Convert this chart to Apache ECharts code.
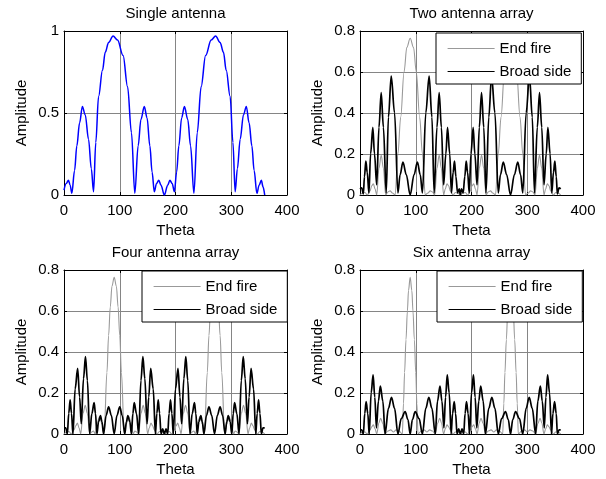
<!DOCTYPE html>
<html>
<head>
<meta charset="utf-8">
<script src="https://cdn.jsdelivr.net/npm/echarts/dist/echarts.min.js"></script>
<style>
html,body{margin:0;padding:0;background:#fff;}
#chart{width:606px;height:479px;}
</style>
</head>
<body>
<div id="chart"></div>
<script>
// ---------------- data (theta in degrees, amplitude) ----------------
const xTicks = [0, 100, 200, 300, 400];
const panelTitles = ['Single antenna', 'Two antenna array', 'Four antenna array', 'Six antenna array'];
const legendNames = ['End fire', 'Broad side'];

const singleAntenna = [[0,0.03],[4,0.07],[8,0.09],[11,0.06],[14,0.01],[19,0.15],[23,0.30],[28,0.44],[33,0.54],[38,0.49],[44,0.34],[49,0.16],[53,0.02],[57,0.32],[62,0.60],[69,0.76],[74,0.87],[80,0.93],[88,0.97],[96,0.945],[106,0.85],[114,0.66],[121,0.38],[127,0.01],[133,0.30],[138,0.46],[144,0.54],[149,0.47],[154,0.30],[158,0.14],[162,0.02],[166,0.07],[170,0.09],[174,0.06],[180,0.00],[186,0.06],[190,0.09],[194,0.07],[198,0.02],[202,0.14],[206,0.30],[211,0.47],[216,0.54],[222,0.46],[227,0.30],[233,0.01],[239,0.38],[246,0.66],[254,0.85],[264,0.945],[272,0.97],[280,0.93],[286,0.87],[291,0.76],[298,0.60],[303,0.32],[307,0.02],[311,0.16],[316,0.34],[322,0.49],[327,0.54],[332,0.44],[337,0.30],[341,0.15],[346,0.01],[350,0.06],[354,0.09],[357,0.05],[360,0.00]];

const twoEndFire = [[0,0],[5,0.01],[9,0.012],[13,0],[18,0.02],[21,0.045],[24,0.055],[27,0.03],[30,0],[34,0.13],[38,0.195],[42,0.13],[46,0],[50,0.015],[54,0.02],[58,0.01],[63,0],[68,0.2],[73,0.38],[79,0.6],[84,0.72],[90,0.765],[96,0.72],[101,0.6],[107,0.38],[112,0.2],[117,0],[122,0.01],[126,0.02],[130,0.015],[134,0],[138,0.13],[142,0.195],[146,0.13],[150,0],[153,0.03],[156,0.055],[159,0.045],[162,0.02],[167,0],[171,0.012],[175,0.01],[180,0],[185,0.01],[189,0.012],[193,0],[198,0.02],[201,0.045],[204,0.055],[207,0.03],[210,0],[214,0.13],[218,0.195],[222,0.13],[226,0],[230,0.015],[234,0.02],[238,0.01],[243,0],[248,0.2],[253,0.38],[259,0.6],[264,0.72],[270,0.765],[276,0.72],[281,0.6],[287,0.38],[292,0.2],[297,0],[302,0.01],[306,0.02],[310,0.015],[314,0],[318,0.13],[322,0.195],[326,0.13],[330,0],[333,0.03],[336,0.055],[339,0.045],[342,0.02],[347,0],[351,0.012],[355,0.01],[360,0]];

const twoBroadSide = [[0,0.03],[3,0.035],[6,0.005],[8,0.09],[10.5,0.165],[13,0.11],[16,0.01],[19,0.2],[23,0.33],[26,0.2],[30,0.05],[34,0.33],[38,0.5],[42,0.33],[47,0.01],[51,0.38],[56,0.58],[62,0.40],[68,0.01],[72,0.1],[77,0.16],[83,0.1],[90,0],[97,0.1],[103,0.16],[108,0.1],[112,0.01],[118,0.40],[124,0.58],[129,0.38],[133,0.01],[138,0.33],[142,0.5],[146,0.33],[150,0.05],[154,0.2],[157,0.33],[161,0.2],[164,0.01],[167,0.11],[169.5,0.165],[172,0.09],[175,0.01],[178,0.03],[180,0],[182,0.03],[185,0.01],[188,0.09],[190.5,0.165],[193,0.11],[196,0.01],[199,0.2],[203,0.33],[206,0.2],[210,0.05],[214,0.33],[218,0.5],[222,0.33],[226,0.01],[231,0.38],[236,0.58],[242,0.40],[248,0.01],[252,0.1],[257,0.16],[263,0.1],[270,0],[277,0.1],[283,0.16],[288,0.1],[292,0.01],[298,0.40],[304,0.58],[309,0.38],[313,0.01],[318,0.33],[322,0.5],[326,0.33],[330,0.05],[334,0.2],[337,0.33],[341,0.2],[344,0.01],[347,0.11],[349.5,0.165],[352,0.09],[354,0.005],[357,0.035],[360,0.03]];

const fourEndFire = [[0,0],[5,0.01],[9,0.012],[13,0],[18,0.02],[21,0.04],[24,0.053],[27,0.03],[30,0],[34,0.1],[38,0.14],[42,0.1],[46,0],[50,0.01],[53,0.015],[56,0],[60,0.06],[64,0.085],[68,0.05],[72,0],[77,0.3],[80,0.48],[83,0.62],[86,0.72],[90,0.765],[94,0.72],[97,0.62],[100,0.48],[103,0.3],[108,0],[112,0.05],[116,0.085],[120,0.06],[124,0],[127,0.015],[130,0.01],[134,0],[138,0.1],[142,0.14],[146,0.1],[150,0],[153,0.03],[156,0.053],[159,0.04],[162,0.02],[167,0],[171,0.012],[175,0.01],[180,0],[185,0.01],[189,0.012],[193,0],[198,0.02],[201,0.04],[204,0.053],[207,0.03],[210,0],[214,0.1],[218,0.14],[222,0.1],[226,0],[230,0.01],[233,0.015],[236,0],[240,0.06],[244,0.085],[248,0.05],[252,0],[257,0.3],[260,0.48],[263,0.62],[266,0.72],[270,0.765],[274,0.72],[277,0.62],[280,0.48],[283,0.3],[288,0],[292,0.05],[296,0.085],[300,0.06],[304,0],[307,0.015],[310,0.01],[314,0],[318,0.1],[322,0.14],[326,0.1],[330,0],[333,0.03],[336,0.053],[339,0.04],[342,0.02],[347,0],[351,0.012],[355,0.01],[360,0]];

const fourBroadSide = [[0,0.03],[3,0.03],[6,0],[8.5,0.1],[11,0.166],[13.5,0.1],[16,0],[20,0.22],[24.5,0.32],[28,0.18],[31,0.05],[35,0.27],[38.5,0.377],[42,0.26],[46,0],[50,0.1],[54,0.153],[56.5,0.1],[59,0],[62,0.06],[65.5,0.09],[68,0.06],[71,0],[75.5,0.09],[80,0.133],[85,0.09],[90,0],[95,0.09],[100,0.133],[104.5,0.09],[109,0],[112,0.06],[114.5,0.09],[118,0.06],[121,0],[123.5,0.1],[126,0.153],[130,0.1],[134,0],[138,0.26],[141.5,0.377],[145,0.27],[149,0.05],[152,0.18],[155.5,0.32],[160,0.22],[164,0],[166.5,0.1],[169,0.166],[171.5,0.1],[174,0],[177,0.025],[180,0],[183,0.025],[186,0],[188.5,0.1],[191,0.166],[193.5,0.1],[196,0],[200,0.22],[204.5,0.32],[208,0.18],[211,0.05],[215,0.27],[218.5,0.377],[222,0.26],[226,0],[230,0.1],[234,0.153],[236.5,0.1],[239,0],[242,0.06],[245.5,0.09],[248,0.06],[251,0],[255.5,0.09],[260,0.133],[265,0.09],[270,0],[275,0.09],[280,0.133],[284.5,0.09],[289,0],[292,0.06],[294.5,0.09],[298,0.06],[301,0],[303.5,0.1],[306,0.153],[310,0.1],[314,0],[318,0.26],[321.5,0.377],[325,0.27],[329,0.05],[332,0.18],[335.5,0.32],[340,0.22],[344,0],[346.5,0.1],[349,0.166],[351.5,0.1],[354,0],[357,0.03],[360,0.03]];

const sixEndFire = [[0,0],[5,0.01],[9,0.01],[13,0],[18,0.02],[21,0.035],[24,0.045],[27,0.025],[30,0],[34,0.055],[37,0.077],[41,0.05],[45,0],[50,0.015],[55,0.02],[60,0.01],[65,0.02],[70,0.015],[76,0],[78,0.15],[80,0.3],[82.5,0.46],[85,0.6],[87,0.7],[90,0.765],[93,0.7],[95,0.6],[97.5,0.46],[100,0.3],[102,0.15],[104,0],[110,0.015],[115,0.02],[120,0.01],[125,0.02],[130,0.015],[135,0],[139,0.05],[143,0.077],[146,0.055],[150,0],[153,0.025],[156,0.045],[159,0.035],[162,0.02],[167,0],[171,0.01],[175,0.01],[180,0],[185,0.01],[189,0.01],[193,0],[198,0.02],[201,0.035],[204,0.045],[207,0.025],[210,0],[214,0.055],[217,0.077],[221,0.05],[225,0],[230,0.015],[235,0.02],[240,0.01],[245,0.02],[250,0.015],[256,0],[258,0.15],[260,0.3],[262.5,0.46],[265,0.6],[267,0.7],[270,0.765],[273,0.7],[275,0.6],[277.5,0.46],[280,0.3],[282,0.15],[284,0],[290,0.015],[295,0.02],[300,0.01],[305,0.02],[310,0.015],[315,0],[319,0.05],[323,0.077],[326,0.055],[330,0],[333,0.025],[336,0.045],[339,0.035],[342,0.02],[347,0],[351,0.01],[355,0.01],[360,0]];

const sixBroadSide = [[0,0.02],[3,0.02],[6,0],[8.5,0.1],[11,0.158],[14,0.1],[16.5,0],[20,0.2],[23.5,0.288],[26.5,0.18],[29.5,0.03],[33,0.16],[36.5,0.234],[41,0.16],[45,0],[51,0.125],[56.5,0.179],[62,0.125],[68,0],[74,0.075],[81,0.109],[86,0.07],[90,0],[94,0.07],[99,0.109],[106,0.075],[112,0],[118,0.125],[123.5,0.179],[129,0.125],[135,0],[139,0.16],[143.5,0.234],[147,0.16],[150.5,0.03],[153.5,0.18],[156.5,0.288],[160,0.2],[163.5,0],[166,0.1],[169,0.158],[171.5,0.1],[174,0],[177,0.025],[180,0],[183,0.025],[186,0],[188.5,0.1],[191,0.158],[194,0.1],[196.5,0],[200,0.2],[203.5,0.288],[206.5,0.18],[209.5,0.03],[213,0.16],[216.5,0.234],[221,0.16],[225,0],[231,0.125],[236.5,0.179],[242,0.125],[248,0],[254,0.075],[261,0.109],[266,0.07],[270,0],[274,0.07],[279,0.109],[286,0.075],[292,0],[298,0.125],[303.5,0.179],[309,0.125],[315,0],[319,0.16],[323.5,0.234],[327,0.16],[330.5,0.03],[333.5,0.18],[336.5,0.288],[340,0.2],[343.5,0],[346,0.1],[349,0.158],[352,0.1],[354,0],[357,0.02],[360,0.02]];

// ---------------- layout / style ----------------
const FONT = 'Liberation Sans, Arial, sans-serif';
const FS = 15;
const grids = [
  {left: 64, top: 31, width: 223, height: 164},
  {left: 360, top: 31, width: 223, height: 164},
  {left: 64, top: 270, width: 223, height: 164},
  {left: 360, top: 270, width: 223, height: 164}
];
const yMax = [1, 0.8, 0.8, 0.8];
const yInterval = [0.5, 0.2, 0.2, 0.2];
const GRID_COLOR = '#858585';
const END_COLOR = '#999999';
const BROAD_COLOR = '#000000';

const xAxis = [], yAxis = [];
grids.forEach((g, i) => {
  xAxis.push({
    gridIndex: i, type: 'value', min: xTicks[0], max: xTicks[xTicks.length - 1], interval: 100,
    position: 'bottom',
    name: 'Theta', nameLocation: 'middle', nameGap: 28,
    nameTextStyle: {fontSize: FS, fontFamily: FONT, color: '#000'},
    axisLine: {show: true, onZero: false, lineStyle: {color: '#000', width: 1}},
    axisTick: {show: true, inside: true, length: 3, lineStyle: {color: '#000'}},
    axisLabel: {fontSize: FS, fontFamily: FONT, color: '#000', margin: 8},
    splitLine: {show: true, lineStyle: {color: GRID_COLOR, width: 1}}
  });
  xAxis.push({
    gridIndex: i, type: 'value', min: xTicks[0], max: xTicks[xTicks.length - 1], interval: 100,
    position: 'top',
    axisLine: {show: true, onZero: false, lineStyle: {color: '#000', width: 1}},
    axisTick: {show: true, inside: true, length: 3, lineStyle: {color: '#000'}},
    axisLabel: {show: false}, splitLine: {show: false}
  });
  yAxis.push({
    gridIndex: i, type: 'value', min: 0, max: yMax[i], interval: yInterval[i],
    position: 'left',
    name: 'Amplitude', nameLocation: 'middle', nameGap: 35,
    nameTextStyle: {fontSize: FS, fontFamily: FONT, color: '#000'},
    axisLine: {show: true, onZero: false, lineStyle: {color: '#000', width: 1}},
    axisTick: {show: true, inside: true, length: 3, lineStyle: {color: '#000'}},
    axisLabel: {fontSize: FS, fontFamily: FONT, color: '#000', margin: 5},
    splitLine: {show: true, lineStyle: {color: GRID_COLOR, width: 1}}
  });
  yAxis.push({
    gridIndex: i, type: 'value', min: 0, max: yMax[i], interval: yInterval[i],
    position: 'right',
    axisLine: {show: true, onZero: false, lineStyle: {color: '#000', width: 1}},
    axisTick: {show: true, inside: true, length: 3, lineStyle: {color: '#000'}},
    axisLabel: {show: false}, splitLine: {show: false}
  });
});

function lineSeries(name, data, idx, color, width, z) {
  return {
    name: name, type: 'line', data: data,
    xAxisIndex: idx * 2, yAxisIndex: idx * 2,
    symbol: 'none', showSymbol: false, smooth: 0.35, smoothMonotone: 'x',
    lineStyle: {color: color, width: width},
    itemStyle: {color: color},
    z: z, animation: false
  };
}

const series = [
  lineSeries('Single', singleAntenna, 0, '#0000ff', 1.5, 3),
  lineSeries(legendNames[0], twoEndFire, 1, END_COLOR, 1.1, 2),
  lineSeries(legendNames[1], twoBroadSide, 1, BROAD_COLOR, 1.7, 3),
  lineSeries(legendNames[0], fourEndFire, 2, END_COLOR, 1.1, 2),
  lineSeries(legendNames[1], fourBroadSide, 2, BROAD_COLOR, 1.7, 3),
  lineSeries(legendNames[0], sixEndFire, 3, END_COLOR, 1.1, 2),
  lineSeries(legendNames[1], sixBroadSide, 3, BROAD_COLOR, 1.7, 3)
];

function legendAt(left, top) {
  return {
    data: legendNames, orient: 'vertical', left: left, top: top,
    itemWidth: 47, itemHeight: 14, itemGap: 8,
    padding: [8, 10, 5, 11],
    backgroundColor: '#fff', borderColor: '#000', borderWidth: 1, borderRadius: 0,
    itemStyle: {opacity: 0},
    lineStyle: {width: 1.2},
    textStyle: {fontSize: FS, fontFamily: FONT, color: '#000'},
    selectedMode: false, z: 10
  };
}

const titleY = [14, 14, 253, 253];
const graphic = grids.map((g, i) => ({
  type: 'text',
  x: g.left + g.width / 2, y: titleY[i],
  style: {text: panelTitles[i], fontSize: FS, fontFamily: FONT, fill: '#000', align: 'center', verticalAlign: 'middle'}
}));

const chart = echarts.init(document.getElementById('chart'), null, {renderer: 'canvas'});
chart.setOption({
  animation: false,
  backgroundColor: '#fff',
  grid: grids,
  xAxis: xAxis,
  yAxis: yAxis,
  legend: [legendAt(436, 33), legendAt(142, 271), legendAt(437, 271)],
  graphic: graphic,
  series: series
});
</script>
</body>
</html>
